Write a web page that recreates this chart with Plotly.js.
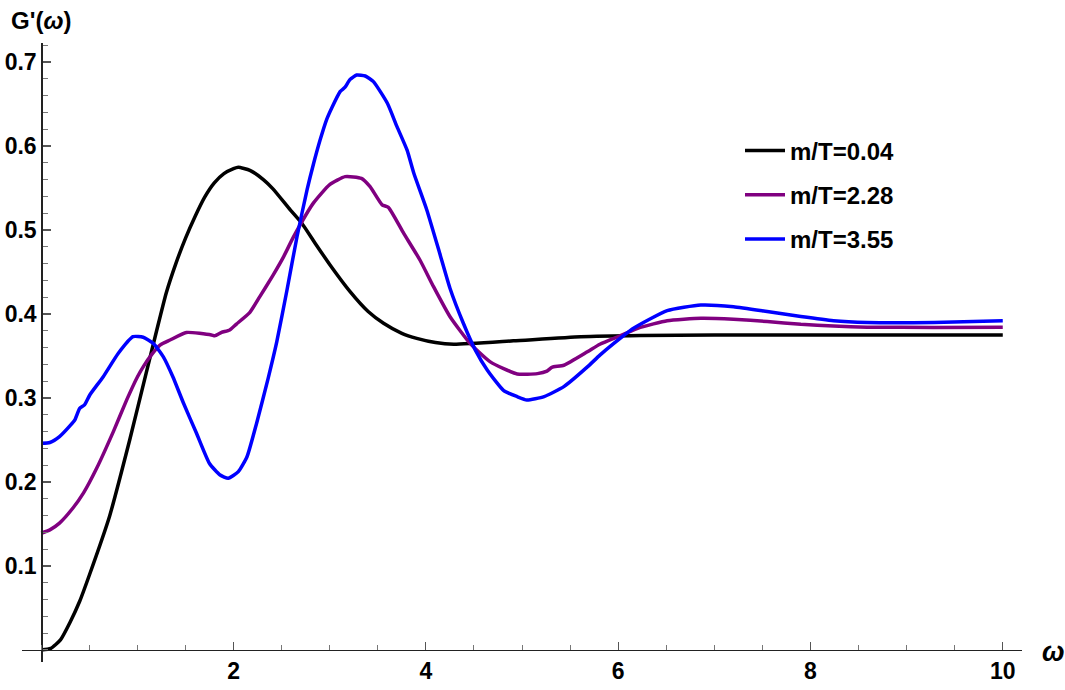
<!DOCTYPE html>
<html>
<head>
<meta charset="utf-8">
<script src="https://cdn.plot.ly/plotly-3.0.1.min.js"></script>
<style>html,body{margin:0;padding:0;background:#fff;}#chart{width:1065px;height:690px;}</style>
</head>
<body>
<div id="chart"></div>
<script>
// ---- data ----
const seriesNames = ["m/T=0.04", "m/T=2.28", "m/T=3.55"];
const seriesColors = ["#000000", "#800080", "#0000ff"];

const blackX = [0, 0.1, 0.2, 0.3, 0.4, 0.5, 0.71, 0.92, 1.09, 1.2, 1.3, 1.4, 1.5, 1.6, 1.7, 1.8, 1.9, 2.0, 2.05, 2.17, 2.31, 2.41, 2.59, 2.71, 2.85, 3.0, 3.21, 3.4, 3.56, 3.75, 3.905, 4.1, 4.29, 4.91, 5.61, 6.23, 7, 8, 9, 10];
const blackY = [0, 0.002, 0.012, 0.033, 0.058, 0.089, 0.159, 0.25, 0.329, 0.38, 0.425, 0.46, 0.49, 0.516, 0.539, 0.556, 0.567, 0.573, 0.5746, 0.571, 0.56, 0.549, 0.524, 0.508, 0.484, 0.459, 0.427, 0.403, 0.389, 0.377, 0.371, 0.366, 0.364, 0.368, 0.373, 0.3745, 0.375, 0.375, 0.375, 0.375];

const purpleX = [0, 0.09, 0.19, 0.33, 0.44, 0.575, 0.75, 0.89, 1.0, 1.065, 1.15, 1.235, 1.34, 1.51, 1.77, 1.805, 1.875, 1.96, 2.03, 2.17, 2.27, 2.41, 2.52, 2.625, 2.83, 3.0, 3.16, 3.33, 3.42, 3.545, 3.61, 3.77, 3.94, 4.08, 4.25, 4.46, 4.67, 4.95, 5.16, 5.26, 5.31, 5.435, 5.68, 5.81, 6.02, 6.23, 6.51, 6.86, 7.2, 7.55, 7.9, 8.24, 8.59, 9.285, 10];
const purpleY = [0.139, 0.143, 0.151, 0.169, 0.187, 0.216, 0.26, 0.298, 0.325, 0.338, 0.352, 0.363, 0.369, 0.378, 0.375, 0.374, 0.378, 0.381, 0.388, 0.402, 0.42, 0.446, 0.468, 0.492, 0.532, 0.554, 0.5635, 0.5615, 0.5516, 0.53, 0.527, 0.496, 0.464, 0.4325, 0.397, 0.365, 0.343, 0.3286, 0.329, 0.332, 0.3365, 0.339, 0.355, 0.364, 0.374, 0.384, 0.392, 0.3948, 0.3937, 0.391, 0.3877, 0.3857, 0.3843, 0.384, 0.3843];

const blueX = [0, 0.09, 0.19, 0.3, 0.35, 0.4, 0.45, 0.505, 0.645, 0.8, 0.955, 1.06, 1.165, 1.27, 1.37, 1.48, 1.615, 1.75, 1.86, 1.945, 2.05, 2.14, 2.24, 2.36, 2.45, 2.555, 2.66, 2.765, 2.83, 2.9, 2.97, 3.02, 3.11, 3.16, 3.21, 3.28, 3.37, 3.455, 3.6, 3.7, 3.805, 3.875, 4.01, 4.15, 4.25, 4.39, 4.515, 4.64, 4.81, 4.95, 5.05, 5.23, 5.435, 5.68, 5.81, 5.955, 6.16, 6.51, 6.86, 7.2, 7.55, 7.9, 8.24, 8.59, 9.285, 10];
const blueY = [0.246, 0.247, 0.254, 0.267, 0.274, 0.2877, 0.2917, 0.3036, 0.3254, 0.353, 0.373, 0.3723, 0.365, 0.349, 0.325, 0.2937, 0.258, 0.222, 0.2083, 0.2044, 0.2123, 0.23, 0.27, 0.3234, 0.367, 0.428, 0.492, 0.548, 0.578, 0.607, 0.632, 0.645, 0.665, 0.67, 0.679, 0.6845, 0.6833, 0.6766, 0.6508, 0.623, 0.595, 0.5675, 0.5238, 0.47, 0.431, 0.389, 0.357, 0.333, 0.3087, 0.3016, 0.2976, 0.3016, 0.3135, 0.337, 0.351, 0.365, 0.383, 0.404, 0.4107, 0.4087, 0.403, 0.397, 0.392, 0.39, 0.39, 0.392];

const xTickVals = [2, 4, 6, 8, 10];
const xTickText = ["2", "4", "6", "8", "10"];
const yTickVals = [0.1, 0.2, 0.3, 0.4, 0.5, 0.6, 0.7];
const yTickText = ["0.1", "0.2", "0.3", "0.4", "0.5", "0.6", "0.7"];

const xRange = [-0.2, 10.2];
const yRange = [-0.0143, 0.7226];

const xs = [blackX, purpleX, blueX];
const ys = [blackY, purpleY, blueY];

const traces = seriesNames.map((n, i) => ({
  x: xs[i], y: ys[i], name: n, type: 'scatter', mode: 'lines',
  legendgroup: 'g' + i,
  line: {color: seriesColors[i], width: 3.5, shape: 'spline', smoothing: 0.5}
}));

const FONT = 'Liberation Sans, Arial, sans-serif';
const axisCol = '#222';

const layout = {
  width: 1065, height: 690,
  margin: {l: 22, r: 43, t: 43, b: 28, pad: 0},
  paper_bgcolor: '#fff', plot_bgcolor: '#fff',
  font: {family: FONT, size: 23, color: '#000', weight: 700},
  showlegend: true,
  legend: {
    x: 0.718, y: 0.862, xanchor: 'left', yanchor: 'top',
    bgcolor: 'rgba(0,0,0,0)', borderwidth: 0,
    font: {family: FONT, size: 24, color: '#000', weight: 700},
    tracegroupgap: 10, traceorder: 'grouped', itemwidth: 40
  },
  xaxis: {
    range: xRange, anchor: 'free', position: (0 - yRange[0]) / (yRange[1] - yRange[0]),
    showgrid: false, zeroline: false, showline: true, linecolor: axisCol, linewidth: 1.5,
    tickmode: 'array', tickvals: xTickVals, ticktext: xTickText,
    ticks: 'inside', ticklen: 8, tickwidth: 1.2, tickcolor: '#555',
    tickfont: {family: FONT, size: 23, color: '#000', weight: 700},
    minor: {tickmode: 'linear', tick0: 0, dtick: 0.5, ticks: 'inside', ticklen: 5, tickwidth: 1, tickcolor: '#777', showgrid: false}
  },
  yaxis: {
    range: yRange, anchor: 'free', position: (0 - xRange[0]) / (xRange[1] - xRange[0]),
    showgrid: false, zeroline: false, showline: true, linecolor: axisCol, linewidth: 1.5,
    tickmode: 'array', tickvals: yTickVals, ticktext: yTickText,
    ticks: 'inside', ticklen: 8, tickwidth: 1.2, tickcolor: '#555',
    tickfont: {family: FONT, size: 23, color: '#000', weight: 700},
    minor: {tickmode: 'linear', tick0: 0, dtick: 0.02, ticks: 'inside', ticklen: 5, tickwidth: 1, tickcolor: '#777', showgrid: false}
  },
  annotations: [
    {xref: 'paper', yref: 'paper', x: -0.013, y: 1.036, xanchor: 'left', yanchor: 'middle',
     text: "G'(<i>ω</i>)", showarrow: false, font: {family: FONT, size: 24, color: '#000', weight: 700}},
    {xref: 'paper', yref: 'paper', x: 1.018, y: 0.016, xanchor: 'left', yanchor: 'middle',
     text: "<i>ω</i>", showarrow: false, font: {family: FONT, size: 27, color: '#000', weight: 700}}
  ]
};

Plotly.newPlot('chart', traces, layout, {displayModeBar: false, staticPlot: true});
</script>
</body>
</html>
